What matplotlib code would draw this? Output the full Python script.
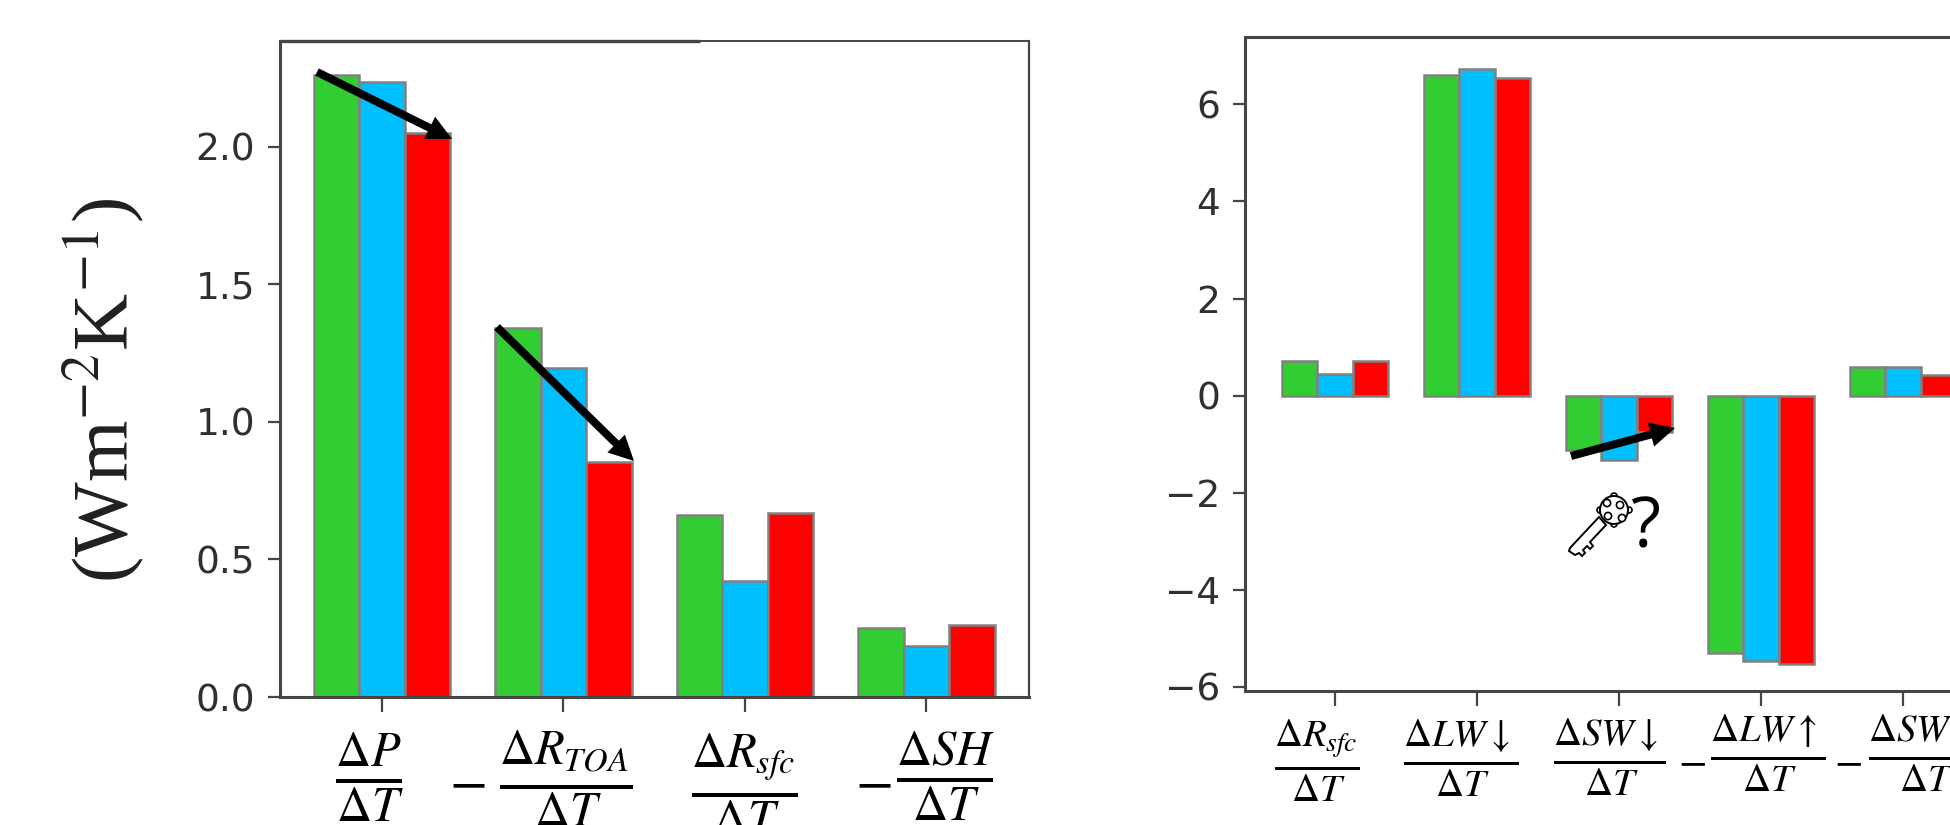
import matplotlib
matplotlib.use("Agg")
import numpy as np
import matplotlib.pyplot as plt
from matplotlib.patches import Circle, Polygon
from matplotlib.transforms import ScaledTranslation

plt.rcParams["font.family"] = ["DejaVu Sans"]
plt.rcParams["mathtext.fontset"] = "stix"

W, H = 1950, 825

# Left panel values
left_labels = [r"$\frac{\Delta P}{\Delta T}$",
               r"$\frac{\Delta R_{TOA}}{\Delta T}$",
               r"$\frac{\Delta R_{sfc}}{\Delta T}$",
               r"$\frac{\Delta SH}{\Delta T}$"]
left_green = [2.26, 1.34, 0.66, 0.25]
left_blue = [2.235, 1.195, 0.42, 0.185]
left_red = [2.05, 0.855, 0.67, 0.26]

# Right panel values
right_labels = [r"$\frac{\Delta R_{sfc}}{\Delta T}$",
                r"$\frac{\Delta LW\downarrow}{\Delta T}$",
                r"$\frac{\Delta SW\downarrow}{\Delta T}$",
                r"$\frac{\Delta LW\uparrow}{\Delta T}$",
                r"$\frac{\Delta SW\uparrow}{\Delta T}$"]
right_green = [0.72, 6.6, -1.12, -5.31, 0.58]
right_blue = [0.44, 6.74, -1.33, -5.47, 0.58]
right_red = [0.72, 6.54, -0.75, -5.54, 0.42]

# The fractions were pasted by hand, so they sit off their ticks (pixels)
left_shift = [(-13, -1), (2, -1), (-1, -3), (19, 0)]
right_shift = [(-18, 0), (-16, 0), (-10, 1), (7, 5), (21, 5)]

colors = ["limegreen", "deepskyblue", "red"]
SPINE = "#454545"
TEXT = "#303030"


def make_axes(x0, x1, top, bottom):
    return fig.add_axes([x0 / W, 1 - bottom / H, (x1 - x0) / W, (bottom - top) / H])


def draw_bars(ax, series):
    x = np.arange(len(series[0]))
    for i, vals in enumerate(series):
        ax.bar(x + (i - 1) * 0.25, vals, 0.25, color=colors[i], edgecolor="#808080", linewidth=1.8)
    ax.set_xticks(x)
    for s in ax.spines.values():
        s.set_linewidth(2.2)
        s.set_color(SPINE)
    ax.tick_params(axis="y", labelsize=27, width=1.6, length=9, color=SPINE, labelcolor=TEXT, pad=9)
    ax.tick_params(axis="x", width=1.6, length=11, color=SPINE)


def shift_labels(ax, shifts):
    for label, (dx, dy) in zip(ax.get_xticklabels(), shifts):
        offset = ScaledTranslation(dx / 100, dy / 100, fig.dpi_scale_trans)
        label.set_transform(label.get_transform() + offset)


fig = plt.figure(figsize=(W / 100, H / 100), dpi=100)

ax1 = make_axes(280, 1029, 41, 697)
draw_bars(ax1, [left_green, left_blue, left_red])
ax1.set_xlim(-0.562, 3.565)
ax1.set_ylim(0, 2.385)
ax1.set_yticks([0, 0.5, 1.0, 1.5, 2.0])
ax1.set_xticklabels(left_labels, fontsize=50, color="black")
ax1.tick_params(axis="x", pad=12)
ax1.spines["top"].set_linewidth(1.4)
ax1.spines["right"].set_linewidth(1.6)
shift_labels(ax1, left_shift)

ax2 = make_axes(1245, 2100, 37, 691)
draw_bars(ax2, [right_green, right_blue, right_red])
ax2.set_xlim(-0.634, 5.387)
ax2.set_ylim(-6.09, 7.39)
ax2.set_yticks([-6, -4, -2, 0, 2, 4, 6])
ax2.set_xticklabels(right_labels, fontsize=40, color="black")
ax2.tick_params(axis="x", pad=8)
shift_labels(ax2, right_shift)

# Overlay in image pixels for the things pasted on top of the plots
over = fig.add_axes([0, 0, 1, 1], facecolor="none")
over.set_xlim(0, W)
over.set_ylim(H, 0)
over.axis("off")

over.plot([280, 700], [41, 41], color=SPINE, lw=2.4, solid_capstyle="butt")

for (x0, y0), (x1, y1) in [((317, 72), (452, 139)), ((497, 327), (634, 461)), ((1571, 456), (1675, 428))]:
    over.arrow(x0, y0, x1 - x0, y1 - y0, width=8, head_width=25, head_length=25,
               length_includes_head=True, color="black", lw=0, zorder=4)

over.text(83 * W / 1568, 314 * W / 1568, r"(Wm$^{-2}$K$^{-1}$)", rotation=90, fontsize=57,
          family="Liberation Serif", ha="center", va="center", color="#202020")

for x, y, size in [(467, 783, 40), (873, 783, 40), (1692, 761, 30), (1848, 761, 30)]:
    over.text(x, y, r"$-$", fontsize=size, ha="center", va="center", color="black")

# Key icon
key_outline = [(1599, 517), (1570, 548), (1569, 551), (1575, 555), (1579, 553), (1582, 556),
               (1585, 553), (1583, 550), (1587, 546), (1590, 549), (1593, 546), (1590, 542), (1606, 525)]
over.add_patch(Polygon(key_outline, facecolor="white", edgecolor="black", lw=1.4, zorder=5))
for cx, cy in [(1614, 496), (1629, 510), (1614, 524), (1600, 510)]:
    over.add_patch(Circle((cx, cy), 3, facecolor="white", edgecolor="black", lw=1.2, zorder=6))
over.add_patch(Circle((1614, 510), 14, facecolor="white", edgecolor="black", lw=1.4, zorder=7))
for cx, cy in [(1607, 503), (1620, 505), (1608, 516), (1622, 518)]:
    over.add_patch(Circle((cx, cy), 3.6, facecolor="white", edgecolor="black", lw=1.2, zorder=8))
over.text(1646, 529, "?", fontsize=50, family="Open Sans", ha="center", va="center", color="black")

fig.savefig("out.png", dpi=100)
